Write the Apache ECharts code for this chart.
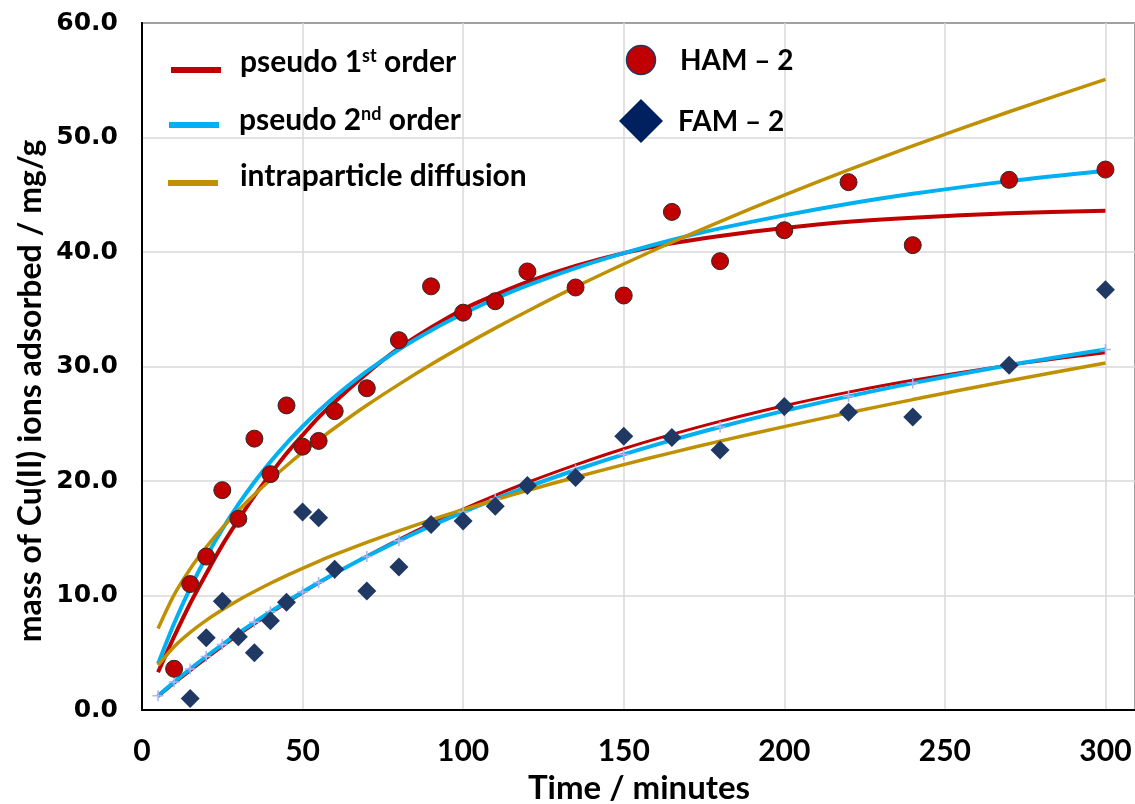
<!DOCTYPE html>
<html>
<head>
<meta charset="utf-8">
<title>Cu(II) adsorption kinetics</title>
<script src="https://cdn.jsdelivr.net/npm/echarts@6/dist/echarts.min.js"></script>
<style>
  html, body { margin: 0; padding: 0; background: #fff; }
  #chart { width: 1135px; height: 804px; }
</style>
</head>
<body>
<div id="chart"></div>
<script>
var hamTime = [10, 15, 20, 25, 30, 35, 40, 45, 50, 55, 60, 70, 80, 90, 100, 110, 120, 135, 150, 165, 180, 200, 220, 240, 270, 300]
var hamQ = [3.6, 11.0, 13.4, 19.2, 16.7, 23.7, 20.6, 26.6, 23.0, 23.5, 26.1, 28.1, 32.3, 37.0, 34.7, 35.7, 38.3, 36.9, 36.2, 43.5, 39.2, 41.9, 46.1, 40.6, 46.3, 47.2]

var famTime = [15, 20, 25, 30, 35, 40, 45, 50, 55, 60, 70, 80, 90, 100, 110, 120, 135, 150, 165, 180, 200, 220, 240, 270, 300]
var famQ = [1.0, 6.3, 9.5, 6.4, 5.0, 7.8, 9.4, 17.3, 16.8, 12.3, 10.4, 12.5, 16.2, 16.5, 17.8, 19.6, 20.3, 23.9, 23.8, 22.7, 26.5, 26.0, 25.6, 30.1, 36.7]

// fitted curves, sampled along the time axis
var fitTime = [5, 10, 15, 20, 25, 30, 35, 40, 45, 50, 55, 60, 70, 80, 90, 100, 110, 120, 135, 150, 165, 180, 200, 220, 240, 270, 300]
var hamPfo = [3.3, 6.4, 9.3, 11.9, 14.4, 16.6, 18.7, 20.6, 22.4, 24.0, 25.55, 26.9, 29.4, 31.6, 33.4, 35.0, 36.26, 37.4, 38.79, 39.9, 40.76, 41.4, 42.1, 42.64, 43.0, 43.38, 43.6]
var hamPso = [4.04, 7.56, 10.63, 13.36, 15.78, 17.95, 19.91, 21.68, 23.29, 24.76, 26.11, 27.36, 29.57, 31.49, 33.15, 34.6, 35.92, 37.08, 38.6, 39.9, 41.05, 42.06, 43.2, 44.21, 45.08, 46.19, 47.1]
var hamIpd = [7.11, 10.06, 12.32, 14.22, 15.9, 17.42, 18.81, 20.11, 21.33, 22.49, 23.58, 24.63, 26.61, 28.44, 30.17, 31.8, 33.35, 34.83, 36.95, 38.95, 40.85, 42.66, 44.97, 47.17, 49.26, 52.25, 55.08]
var famPfo = [1.18, 2.33, 3.43, 4.5, 5.54, 6.54, 7.5, 8.44, 9.35, 10.22, 11.07, 11.89, 13.45, 14.91, 16.28, 17.55, 18.75, 19.87, 21.41, 22.82, 24.07, 25.21, 26.57, 27.76, 28.8, 30.12, 31.2]
var famPso = [1.25, 2.44, 3.58, 4.67, 5.71, 6.71, 7.66, 8.58, 9.46, 10.31, 11.13, 11.92, 13.4, 14.79, 16.08, 17.29, 18.42, 19.48, 20.96, 22.32, 23.57, 24.72, 26.12, 27.39, 28.55, 30.11, 31.48]
var famIpd = [3.91, 5.53, 6.78, 7.83, 8.75, 9.59, 10.35, 11.07, 11.74, 12.37, 12.98, 13.56, 14.64, 15.65, 16.6, 17.5, 18.35, 19.17, 20.33, 21.43, 22.48, 23.48, 24.75, 25.96, 27.11, 28.76, 30.31]

function pairs(xs, ys) {
    var out = []
    for (var i = 0; i < xs.length; i++) out.push([xs[i], ys[i]])
    return out
}

var RED = '#c00000'
var CYAN = '#00b0f0'
var GOLD = '#bf9000'
var NAVY = '#1f3864'
var LBL = 'Lato, "Open Sans", sans-serif'

function fitLine(name, ys, color, width) {
    return {
        name: name,
        type: 'line',
        data: pairs(fitTime, ys),
        smooth: 0.3,
        showSymbol: false,
        symbol: 'none',
        lineStyle: { color: color, width: width },
        z: 2
    }
}

function legendText(x, y, rich, size) {
    return {
        type: 'text', x: x, y: y,
        style: {
            text: rich,
            verticalAlign: 'middle',
            align: 'left',
            rich: {
                n: { fontFamily: LBL, fontWeight: 'bold', fontSize: size, fill: '#000' },
                s: { fontFamily: LBL, fontWeight: 'bold', fontSize: Math.round(size * 0.6), fill: '#000', verticalAlign: 'top' }
            }
        },
        z: 100
    }
}

(function () {
    var myChart = echarts.init(document.getElementById('chart'))

    var option = {
        animation: false,
        backgroundColor: '#fff',
        grid: {
            // right edge runs past the canvas, as in the source figure
            left: 142, top: 23, width: 1000, bottom: 94,
            show: true, borderColor: '#000', borderWidth: 2, backgroundColor: 'transparent'
        },
        xAxis: {
            type: 'value', min: 0, max: 309.2, interval: 50,
            axisLine: { show: true, lineStyle: { color: '#000', width: 2 } },
            axisTick: { show: false },
            splitLine: { show: true, lineStyle: { color: '#d9d9d9', width: 1.5 } },
            axisLabel: { margin: 26, fontFamily: LBL, fontWeight: 'bold', fontSize: 30, color: '#000', showMaxLabel: false }
        },
        yAxis: {
            type: 'value', min: 0, max: 60, interval: 10,
            axisLine: { show: true, lineStyle: { color: '#000', width: 2 } },
            axisTick: { show: false },
            splitLine: { show: true, lineStyle: { color: '#d9d9d9', width: 1.5 } },
            axisLabel: {
                margin: 24, fontFamily: '"DejaVu Sans", sans-serif', fontWeight: 'bold', fontSize: 25, color: '#000',
                formatter: function (v) { return v.toFixed(1) }
            }
        },
        graphic: [
            // y axis title
            {
                type: 'text', x: 31, y: 391, rotation: Math.PI / 2,
                style: {
                    text: 'mass of Cu(II) ions adsorbed / mg/g',
                    fontFamily: LBL, fontWeight: 'bold', fontSize: 32, fill: '#000',
                    align: 'center', verticalAlign: 'middle'
                }
            },
            // x axis title
            {
                type: 'text', x: 639, y: 788,
                style: {
                    text: 'Time / minutes',
                    fontFamily: LBL, fontWeight: 'bold', fontSize: 33, fill: '#000',
                    align: 'center', verticalAlign: 'middle'
                }
            },
            // legend: fits
            { type: 'rect', shape: { x: 171, y: 67, width: 50, height: 6 }, style: { fill: RED }, z: 100 },
            { type: 'rect', shape: { x: 169, y: 122, width: 50, height: 6 }, style: { fill: CYAN }, z: 100 },
            { type: 'rect', shape: { x: 168, y: 180, width: 50, height: 6 }, style: { fill: GOLD }, z: 100 },
            legendText(240, 62, '{n|pseudo 1}{s|st}{n| order}', 30),
            legendText(239, 120, '{n|pseudo 2}{s|nd}{n| order}', 30),
            legendText(240, 176, '{n|intraparticle diffusion}', 30),
            // legend: samples
            { type: 'circle', shape: { cx: 641, cy: 60, r: 14.5 }, style: { fill: RED, stroke: '#1f3864', lineWidth: 1.5 }, z: 100 },
            { type: 'polygon', shape: { points: [[641, 99], [663, 121], [641, 143], [619, 121]] }, style: { fill: '#002060' }, z: 100 },
            legendText(680, 61, '{n|HAM \u2013 2}', 28),
            legendText(678, 122, '{n|FAM \u2013 2}', 28)
        ],
        series: [
            fitLine('HAM pseudo 1st order', hamPfo, RED, 4),
            fitLine('HAM pseudo 2nd order', hamPso, CYAN, 4),
            fitLine('HAM intraparticle diffusion', hamIpd, GOLD, 3.5),
            fitLine('FAM pseudo 1st order', famPfo, RED, 3),
            {
                name: 'FAM pseudo 2nd order',
                type: 'line',
                data: pairs(fitTime, famPso),
                smooth: 0.3,
                showSymbol: true,
                symbol: 'path://M4.3,0h1.4v10h-1.4zM0,4.3h10v1.4h-10z',
                symbolSize: 11,
                itemStyle: { color: '#a9b6ee' },
                lineStyle: { color: CYAN, width: 4 },
                z: 2
            },
            fitLine('FAM intraparticle diffusion', famIpd, GOLD, 3.5),
            {
                name: 'HAM - 2',
                type: 'scatter',
                data: pairs(hamTime, hamQ),
                symbol: 'circle',
                symbolSize: 17,
                itemStyle: { color: RED, borderColor: '#2b2b2b', borderWidth: 1, opacity: 1 },
                z: 5
            },
            {
                name: 'FAM - 2',
                type: 'scatter',
                data: pairs(famTime, famQ),
                symbol: 'diamond',
                symbolSize: 19,
                itemStyle: { color: NAVY, opacity: 1 },
                z: 5
            }
        ]
    }
    myChart.setOption(option)
    window.addEventListener('resize', function () {
        myChart.resize()
    })
}())
</script>
</body>
</html>
